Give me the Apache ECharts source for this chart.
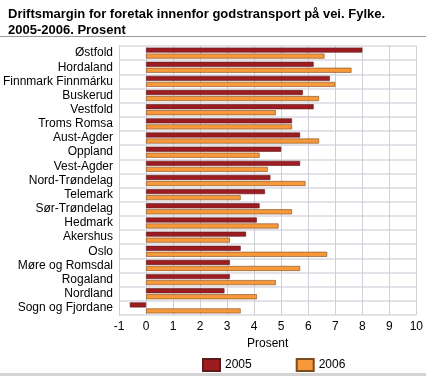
<!DOCTYPE html>
<html>
<head>
<meta charset="utf-8">
<script src="https://cdn.jsdelivr.net/npm/echarts@6/dist/echarts.min.js"></script>
<style>
  html, body { margin: 0; padding: 0; background: #fff; }
  #chart { width: 426px; height: 376px; }
</style>
</head>
<body>
<div id="chart"></div>
<script>
const fylker = ['Østfold', 'Hordaland', 'Finnmark Finnmárku', 'Buskerud', 'Vestfold', 'Troms Romsa',
  'Aust-Agder', 'Oppland', 'Vest-Agder', 'Nord-Trøndelag', 'Telemark', 'Sør-Trøndelag', 'Hedmark',
  'Akershus', 'Oslo', 'Møre og Romsdal', 'Rogaland', 'Nordland', 'Sogn og Fjordane']
const v2005 = [8.0, 6.2, 6.8, 5.8, 6.2, 5.4, 5.7, 5.0, 5.7, 4.6, 4.4, 4.2, 4.1, 3.7, 3.5, 3.1, 3.1, 2.9, -0.6]
const v2006 = [6.6, 7.6, 7.0, 6.4, 4.8, 5.4, 6.4, 4.2, 4.5, 5.9, 3.5, 5.4, 4.9, 3.1, 6.7, 5.7, 4.8, 4.1, 3.5]
const xTicks = { min: -1, max: 10, interval: 1 }

const font = 'Liberation Sans, Arial, sans-serif'
const myChart = echarts.init(document.getElementById('chart'))

const option = {
    animation: false,
    textStyle: { fontFamily: font },
    title: {
        text: 'Driftsmargin for foretak innenfor godstransport på vei. Fylke.\n2005-2006. Prosent',
        left: 3, top: 1,
        textStyle: { fontSize: 13, fontWeight: 'bold', color: '#000', lineHeight: 16, fontFamily: font }
    },
    graphic: [
        { type: 'rect', shape: { x: 0, y: 36, width: 426, height: 1 }, style: { fill: '#9a9a9a' } },
        { type: 'rect', shape: { x: 0, y: 373, width: 426, height: 3 }, style: { fill: '#d4d4d4' } }
    ],
    legend: {
        top: 353, left: 197, itemWidth: 17, itemHeight: 12, itemGap: 44,
        icon: 'rect',
        textStyle: { fontSize: 12, color: '#000', fontFamily: font },
        data: ['2005', '2006']
    },
    grid: { left: 116, right: 7, top: 46, bottom: 61 },
    xAxis: {
        type: 'value', min: xTicks.min, max: xTicks.max, interval: xTicks.interval,
        name: 'Prosent', nameLocation: 'middle', nameGap: 17,
        nameTextStyle: { fontSize: 12, color: '#000', fontFamily: font },
        axisLabel: { fontSize: 12, color: '#000', margin: 6 },
        axisLine: { show: false },
        axisTick: { show: false },
        splitLine: { show: true, lineStyle: { color: '#cfcfd6', width: 1 } }
    },
    yAxis: {
        type: 'category', data: fylker, inverse: true,
        axisLabel: { fontSize: 12, color: '#000', margin: 6, interval: 0 },
        axisLine: { show: true, onZero: false, lineStyle: { color: '#cfcfd6' } },
        axisTick: { show: false },
        splitLine: { show: true, interval: 0, lineStyle: { color: '#e2e2e8', width: 2 } }
    },
    series: [
        {
            name: '2005', type: 'bar', data: v2005, barWidth: 5, barGap: '20%',
            itemStyle: { color: '#9c1c22', borderColor: '#5e1a1a', borderWidth: 0.6 }
        },
        {
            name: '2006', type: 'bar', data: v2006, barWidth: 5,
            itemStyle: { color: '#f7993a', borderColor: '#7a4a20', borderWidth: 0.6 }
        }
    ]
}
myChart.setOption(option)
</script>
</body>
</html>
